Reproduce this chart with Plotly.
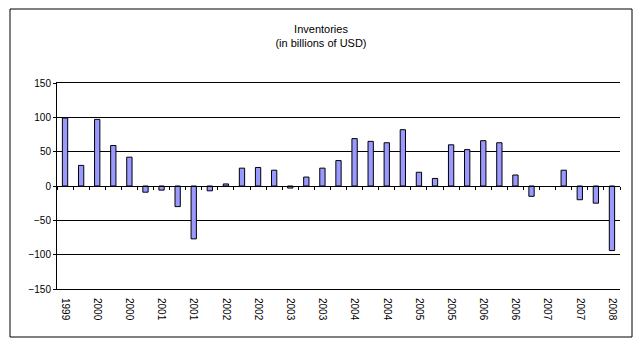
import plotly.graph_objects as go

quarters = ["1999 Q3", "1999 Q4",
            "2000 Q1", "2000 Q2", "2000 Q3", "2000 Q4",
            "2001 Q1", "2001 Q2", "2001 Q3", "2001 Q4",
            "2002 Q1", "2002 Q2", "2002 Q3", "2002 Q4",
            "2003 Q1", "2003 Q2", "2003 Q3", "2003 Q4",
            "2004 Q1", "2004 Q2", "2004 Q3", "2004 Q4",
            "2005 Q1", "2005 Q2", "2005 Q3", "2005 Q4",
            "2006 Q1", "2006 Q2", "2006 Q3", "2006 Q4",
            "2007 Q1", "2007 Q2", "2007 Q3", "2007 Q4",
            "2008 Q1"]
inventories = [99, 30,
               97, 59, 42, -9,
               -6, -30, -77, -7,
               3, 26, 27, 23,
               -3, 13, 26, 37,
               69, 65, 63, 82,
               20, 11, 60, 53,
               66, 63, 16, -15,
               None, 23, -20, -25,
               -94]
tick_labels = [q.split()[0] for q in quarters]

idx = list(range(len(quarters)))
fig = go.Figure()
fig.add_trace(go.Bar(
    x=idx, y=inventories, customdata=quarters,
    marker=dict(color="#9999FF", line=dict(color="black", width=1)),
    hovertemplate="%{customdata}: %{y}<extra></extra>",
))

W, H = 642, 349
ml, mr, mt, mb = 57, 22, 83, 60
pw, ph = W - ml - mr, H - mt - mb

fig.update_layout(
    width=W, height=H,
    margin=dict(l=ml, r=mr, t=mt, b=mb),
    paper_bgcolor="white", plot_bgcolor="white",
    bargap=0.67,
    showlegend=False,
    font=dict(family="Arial, Liberation Sans, sans-serif", size=10, color="black"),
    title=dict(text="Inventories<br>(in billions of USD)", x=0.5, xref="container",
               xanchor="center", y=1 - 33 / H, yanchor="top", yref="container",
               pad=dict(t=0, b=0),
               font=dict(size=11, color="black")),
    xaxis=dict(range=[-0.5, len(quarters) - 0.5],
               tickmode="array",
               tickvals=idx[::2], ticktext=tick_labels[::2],
               tickangle=90, ticks="", showgrid=False, zeroline=False,
               showline=True, linecolor="black", linewidth=1, mirror=True,
               ticklabelstandoff=6, tickfont=dict(size=10)),
    xaxis2=dict(range=[-0.5, len(quarters) - 0.5], overlaying="x",
                anchor="free", position=0.5, side="bottom",
                tickmode="linear", tick0=0.5, dtick=1,
                ticks="outside", ticklen=3, tickcolor="black",
                showticklabels=False, showgrid=False, zeroline=False,
                showline=True, linecolor="black", linewidth=1),
    yaxis=dict(range=[-150, 150], tickmode="linear", tick0=-150, dtick=50,
               showgrid=True, gridcolor="black", gridwidth=1,
               zeroline=True, zerolinecolor="black", zerolinewidth=1,
               showline=True, linecolor="black", linewidth=1,
               ticks="outside", ticklen=3, tickcolor="black",
               tickfont=dict(size=10)),
)
# invisible trace to keep xaxis2 rendered
fig.add_trace(go.Scatter(x=[0], y=[0], xaxis="x2", mode="markers",
                         marker=dict(opacity=0), hoverinfo="skip"))

# outer chart border
fig.add_shape(type="rect", xref="paper", yref="paper",
              x0=(10 - ml) / pw, x1=(632 - ml) / pw,
              y0=(H - mb - 337) / ph, y1=(H - mb - 9) / ph,
              line=dict(color="black", width=1), fillcolor="rgba(0,0,0,0)",
              layer="below")

fig.write_html("out.html")
